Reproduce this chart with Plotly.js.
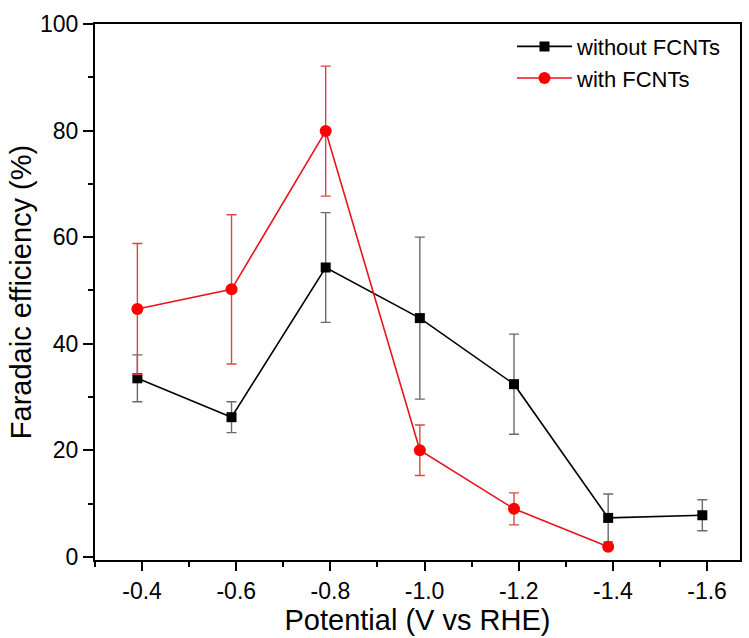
<!DOCTYPE html>
<html>
<head>
<meta charset="utf-8">
<script src="https://cdn.plot.ly/plotly-3.0.1.min.js"></script>
<style>html,body{margin:0;padding:0;background:#fff;}#chart{width:749px;height:638px;}</style>
</head>
<body>
<div id="chart"></div>
<script>
const potentialWithout = [-0.39, -0.59, -0.79, -0.99, -1.19, -1.39, -1.59];
const feWithout = [33.5, 26.2, 54.3, 44.8, 32.4, 7.3, 7.8];
const errWithout = [4.4, 2.9, 10.3, 15.2, 9.4, 4.5, 2.9];

const potentialWith = [-0.39, -0.59, -0.79, -0.99, -1.19, -1.39];
const feWith = [46.5, 50.2, 79.9, 20.0, 9.0, 1.9];
const errWith = [12.3, 14.0, 12.2, 4.75, 3.0, 0];

const xTickVals = [-0.4, -0.6, -0.8, -1.0, -1.2, -1.4, -1.6];
const xTickText = ['-0.4', '-0.6', '-0.8', '-1.0', '-1.2', '-1.4', '-1.6'];
const seriesNames = ['without FCNTs', 'with FCNTs'];

const font = 'Liberation Sans, Arial, sans-serif';

const traces = [
  {
    x: potentialWithout, y: feWithout, name: seriesNames[0], type: 'scatter', mode: 'lines+markers',
    line: {color: '#000000', width: 1.6},
    marker: {symbol: 'square', size: 10, color: '#000000'},
    error_y: {type: 'data', array: errWithout, visible: true, color: '#6a6a6a', thickness: 1.4, width: 5}
  },
  {
    x: potentialWith, y: feWith, name: seriesNames[1], type: 'scatter', mode: 'lines+markers',
    line: {color: '#e8141c', width: 1.6},
    marker: {symbol: 'circle', size: 12, color: '#ff0000'},
    error_y: {type: 'data', array: errWith, visible: true, color: '#d84848', thickness: 1.4, width: 5}
  }
];

const layout = {
  width: 749, height: 638,
  margin: {l: 95, r: 9, t: 24, b: 78},
  paper_bgcolor: '#ffffff', plot_bgcolor: '#ffffff',
  font: {family: font, color: '#000000'},
  showlegend: true,
  legend: {x: 0.6465, y: 0.997, xanchor: 'left', yanchor: 'top', font: {size: 22, family: font},
           bgcolor: 'rgba(0,0,0,0)', itemwidth: 55, tracegroupgap: 0},
  xaxis: {
    range: [-0.3, -1.67], autorange: false,
    tickmode: 'array', tickvals: xTickVals, ticktext: xTickText,
    ticks: 'outside', ticklen: 9, tickwidth: 2, tickcolor: '#000',
    minor: {tickmode: 'linear', tick0: -0.3, dtick: 0.1, ticks: 'outside', ticklen: 5, tickwidth: 2, tickcolor: '#000'},
    showline: true, linecolor: '#000', linewidth: 2, mirror: true,
    showgrid: false, zeroline: false,
    tickfont: {size: 23, family: font},
    title: {text: 'Potential (V vs RHE)', font: {size: 29, family: font}, standoff: 5}
  },
  yaxis: {
    range: [-0.6, 100], autorange: false,
    tick0: 0, dtick: 20,
    ticks: 'outside', ticklen: 10, tickwidth: 2, tickcolor: '#000',
    minor: {dtick: 10, ticks: 'outside', ticklen: 5, tickwidth: 2, tickcolor: '#000'},
    showline: true, linecolor: '#000', linewidth: 2, mirror: true,
    showgrid: false, zeroline: false,
    tickfont: {size: 23, family: font},
    title: {text: 'Faradaic efficiency (%)', font: {size: 29, family: font}, standoff: 0}
  }
};

Plotly.newPlot('chart', traces, layout, {displayModeBar: false, staticPlot: true});
</script>
</body>
</html>
